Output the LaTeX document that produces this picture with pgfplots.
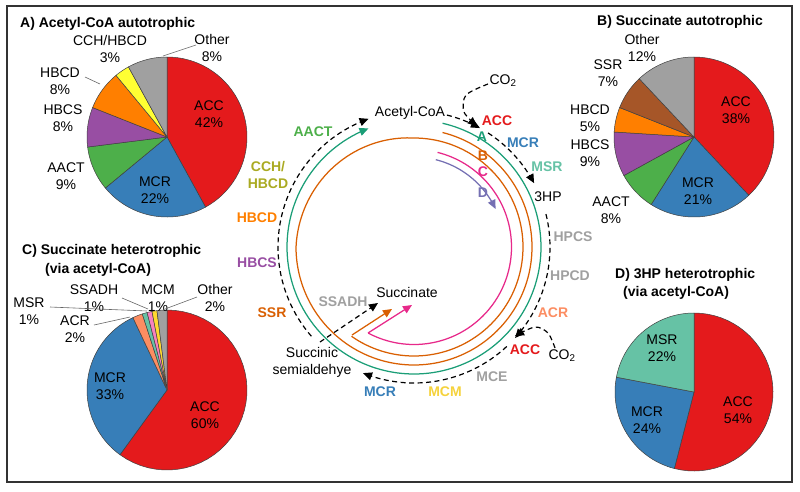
\documentclass[border=0pt]{standalone}
\usepackage{fontspec}
\setmainfont{Liberation Sans}
\usepackage{pgfplots}
\pgfplotsset{compat=1.18}
\usetikzlibrary{arrows.meta}
\definecolor{cACC}{HTML}{E41A1C}
\definecolor{cMCR}{HTML}{377EB8}
\definecolor{cAACT}{HTML}{4DAF4A}
\definecolor{cHBCS}{HTML}{984EA3}
\definecolor{cHBCD}{HTML}{FF7F00}
\definecolor{cCCH}{HTML}{FFFF33}
\definecolor{cOther}{HTML}{A0A0A0}
\definecolor{cSSR}{HTML}{A65628}
\definecolor{cACR}{HTML}{FC8D62}
\definecolor{cMSR}{HTML}{66C2A5}
\definecolor{cSSADH}{HTML}{F781BF}
\definecolor{cMCM}{HTML}{FFD92F}
\definecolor{pA}{HTML}{1B9E77}
\definecolor{pB}{HTML}{D95F02}
\definecolor{pC}{HTML}{E7298A}
\definecolor{pD}{HTML}{7570B3}
\definecolor{cOlive}{HTML}{AAAA22}
\definecolor{cGrayT}{HTML}{A0A0A0}
\definecolor{cMCMt}{HTML}{F5D23C}
% slice: cx, cy, r, start (%), value (%), colour
\newcommand{\slice}[6]{\addplot[fill=#6, draw=black!75, line width=0.5pt, domain=0:#5, samples=40, variable=\t] ({#1+#3*sin(3.6*(#4+\t))},{#2-#3*cos(3.6*(#4+\t))}) -- (axis cs:#1,#2) -- cycle;}
\tikzset{
 lab/.style={font=\fontsize{14}{17}\selectfont, inner sep=0pt, align=center},
 blab/.style={font=\fontsize{14}{17}\selectfont\bfseries, inner sep=0pt, align=center},
 ttl/.style={font=\fontsize{14}{17}\selectfont\bfseries, inner sep=0pt, anchor=west},
 dsh/.style={black, line width=1.2pt, dash pattern=on 5pt off 3.5pt, -{Triangle[length=9pt,width=8pt]}},
 pth/.style={line width=1.25pt},
 ldr/.style={black!60, line width=0.6pt}
}
\begin{document}
\begin{tikzpicture}
\begin{axis}[
  width=800pt, height=491pt, scale only axis,
  xmin=0, xmax=800, ymin=0, ymax=491, y dir=reverse,
  hide axis, clip=false, anchor=south west, at={(0,0)}]
\addplot[draw=none] coordinates {(0,0) (800,491)};
\addplot[black!80, line width=1.1pt] coordinates {(7,6) (792,6) (792,482) (7,482)} -- cycle;

% ---------- Pie A : Acetyl-CoA autotrophic ----------
\slice{167}{137}{80}{0}{42}{cACC}
\slice{167}{137}{80}{42}{22}{cMCR}
\slice{167}{137}{80}{64}{9}{cAACT}
\slice{167}{137}{80}{73}{8}{cHBCS}
\slice{167}{137}{80}{81}{8}{cHBCD}
\slice{167}{137}{80}{89}{3}{cCCH}
\slice{167}{137}{80}{92}{8}{cOther}
\node[ttl] at (axis cs:20,24) {A) Acetyl-CoA autotrophic};
\node[lab] at (axis cs:209,114) {ACC\\42\%};
\node[lab] at (axis cs:155,190) {MCR\\22\%};
\node[lab] at (axis cs:66,176) {AACT\\9\%};
\node[lab] at (axis cs:63,118) {HBCS\\8\%};
\node[lab] at (axis cs:60,81) {HBCD\\8\%};
\node[lab] at (axis cs:110,49) {CCH/HBCD\\3\%};
\node[lab] at (axis cs:212,48) {Other\\8\%};
\addplot[ldr] coordinates {(85,77) (100,84)};
\addplot[ldr] coordinates {(196,45) (163,56)};

% ---------- Pie B : Succinate autotrophic ----------
\slice{694}{137}{80}{0}{38}{cACC}
\slice{694}{137}{80}{38}{21}{cMCR}
\slice{694}{137}{80}{59}{8}{cAACT}
\slice{694}{137}{80}{67}{9}{cHBCS}
\slice{694}{137}{80}{76}{5}{cHBCD}
\slice{694}{137}{80}{81}{7}{cSSR}
\slice{694}{137}{80}{88}{12}{cOther}
\node[ttl] at (axis cs:597,22) {B) Succinate autotrophic};
\node[lab] at (axis cs:736,110) {ACC\\38\%};
\node[lab] at (axis cs:698,191) {MCR\\21\%};
\node[lab] at (axis cs:611,210) {AACT\\8\%};
\node[lab] at (axis cs:590,153) {HBCS\\9\%};
\node[lab] at (axis cs:590,118) {HBCD\\5\%};
\node[lab] at (axis cs:608,73) {SSR\\7\%};
\node[lab] at (axis cs:642,48) {Other\\12\%};

% ---------- Pie C : Succinate heterotrophic ----------
\slice{167}{390}{80}{0}{60}{cACC}
\slice{167}{390}{80}{60}{33}{cMCR}
\slice{167}{390}{80}{93}{2}{cACR}
\slice{167}{390}{80}{95}{1}{cMSR}
\slice{167}{390}{80}{96}{1}{cSSADH}
\slice{167}{390}{80}{97}{1}{cMCM}
\slice{167}{390}{80}{98}{2}{cOther}
\node[ttl] at (axis cs:22,251) {C) Succinate heterotrophic};
\node[ttl] at (axis cs:45,270) {(via acetyl-CoA)};
\node[lab] at (axis cs:205,415) {ACC\\60\%};
\node[lab] at (axis cs:110,386) {MCR\\33\%};
\node[lab] at (axis cs:75,329) {ACR\\2\%};
\node[lab] at (axis cs:29,311) {MSR\\1\%};
\node[lab] at (axis cs:94,298) {SSADH\\1\%};
\node[lab] at (axis cs:158,298) {MCM\\1\%};
\node[lab] at (axis cs:215,298) {Other\\2\%};
\addplot[ldr] coordinates {(94,325) (130,317)};
\addplot[ldr] coordinates {(50,307) (147,311)};
\addplot[ldr] coordinates {(122,298) (148,309)};
\addplot[ldr] coordinates {(197,297) (165,309)};

% ---------- Pie D : 3HP heterotrophic ----------
\slice{694}{392}{79}{0}{54}{cACC}
\slice{694}{392}{79}{54}{24}{cMCR}
\slice{694}{392}{79}{78}{22}{cMSR}
\node[ttl] at (axis cs:615,275) {D) 3HP heterotrophic};
\node[ttl] at (axis cs:623,293) {(via acetyl-CoA)};
\node[lab] at (axis cs:738,410) {ACC\\54\%};
\node[lab] at (axis cs:647,420) {MCR\\24\%};
\node[lab] at (axis cs:662,348) {MSR\\22\%};

% ---------- Central pathway diagram ----------
% A (green)
\addplot[pA, pth, -{Triangle[length=9pt,width=8pt]}, domain=0:326, samples=160, variable=\t] ({414+127*cos(77-\t)},{247-127*sin(77-\t)});
% B (orange spiral)
\addplot[pB, pth, domain=0:561, samples=260, variable=\t] ({414+(118-9*min(max((\t-256)/90,0),1))*cos(76-\t)},{247-(118-9*min(max((\t-256)/90,0),1))*sin(76-\t)});
\addplot[pB, pth, -{Triangle[length=9pt,width=8pt]}] coordinates {(352,335) (392,309)};
% C (pink)
\addplot[pC, pth, domain=0:194, samples=100, variable=\t] ({414+97.5*cos(76-\t)},{247-97.5*sin(76-\t)});
\addplot[pC, pth, -{Triangle[length=9pt,width=8pt]}] coordinates {(368,333) (412,305)};
% D (purple)
\addplot[pD, pth, -{Triangle[length=9pt,width=8pt]}, domain=0:51, samples=30, variable=\t] ({414+90*cos(76-\t)},{247-90*sin(76-\t)});

% dashed reaction cycle
\addplot[dsh, domain=0:15, samples=20, variable=\t] ({414+136*cos(76-\t)},{247-136*sin(76-\t)});
\addplot[dsh, domain=0:29, samples=20, variable=\t] ({414+136*cos(57-\t)},{247-136*sin(57-\t)});
\addplot[dsh, domain=0:56, samples=30, variable=\t] ({414+136*cos(14-\t)},{247-136*sin(14-\t)});
\addplot[dsh, domain=0:65, samples=30, variable=\t] ({414+136*cos(-47-\t)},{247-136*sin(-47-\t)});
\addplot[dsh, domain=0:111.5, samples=50, variable=\t] ({414+136*cos(-139-\t)},{247-136*sin(-139-\t)});
\addplot[dsh] coordinates {(320,342) (378,303)};
\addplot[dsh, smooth] coordinates {(488,84) (466,95) (464,112) (477,126)};
\addplot[dsh, smooth] coordinates {(555,348) (548,333) (535,327) (515,336)};

% metabolite labels
\node[lab] at (axis cs:410,113) {Acetyl-CoA};
\node[lab] at (axis cs:503,81) {CO\textsubscript{2}};
\node[lab] at (axis cs:548,197) {3HP};
\node[lab] at (axis cs:562,356) {CO\textsubscript{2}};
\node[lab] at (axis cs:407,292) {Succinate};
\node[lab] at (axis cs:312,362) {Succinic\\semialdehye};
% enzyme labels
\node[blab, text=cACC] at (axis cs:497,121) {ACC};
\node[blab, text=cMCR] at (axis cs:523,143) {MCR};
\node[blab, text=cMSR] at (axis cs:547,167) {MSR};
\node[blab, text=cGrayT] at (axis cs:573,237) {HPCS};
\node[blab, text=cGrayT] at (axis cs:570,276) {HPCD};
\node[blab, text=cACR] at (axis cs:553,313) {ACR};
\node[blab, text=cACC] at (axis cs:525,350) {ACC};
\node[blab, text=cGrayT] at (axis cs:492,377) {MCE};
\node[blab, text=cMCMt] at (axis cs:445,392) {MCM};
\node[blab, text=cMCR] at (axis cs:380,392) {MCR};
\node[blab, text=cGrayT] at (axis cs:343,302) {SSADH};
\node[blab, text=pB] at (axis cs:272,313) {SSR};
\node[blab, text=cHBCS] at (axis cs:257,263) {HBCS};
\node[blab, text=cHBCD] at (axis cs:257,218) {HBCD};
\node[blab, text=cOlive] at (axis cs:268,175) {CCH/\\HBCD};
\node[blab, text=cAACT] at (axis cs:313,132) {AACT};
% route letters
\node[blab, text=pA] at (axis cs:482,137) {A};
\node[blab, text=pB] at (axis cs:483,156) {B};
\node[blab, text=pC] at (axis cs:483,172) {C};
\node[blab, text=pD] at (axis cs:483,193) {D};
\end{axis}
\end{tikzpicture}
\end{document}
